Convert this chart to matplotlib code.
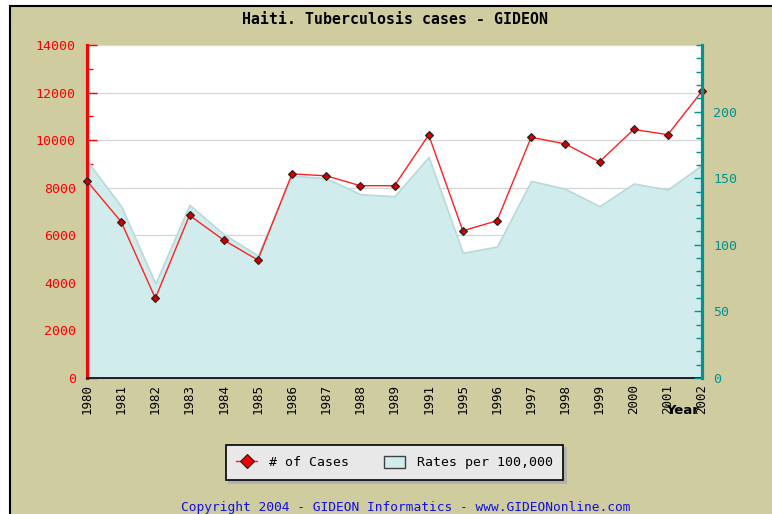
import matplotlib
matplotlib.use("Agg")
import matplotlib.pyplot as plt
from matplotlib.lines import Line2D
from matplotlib.patches import Patch, Rectangle
from matplotlib.ticker import MultipleLocator

years = ["1980", "1981", "1982", "1983", "1984", "1985", "1986", "1987", "1988", "1989",
         "1991", "1995", "1996", "1997", "1998", "1999", "2000", "2001", "2002"]
cases = [8280, 6570, 3350, 6840, 5800, 4960, 8580, 8500, 8085, 8085,
         10220, 6190, 6610, 10120, 9840, 9090, 10450, 10230, 12060]
rates = [163, 129, 71, 130, 108, 92, 152, 150, 138, 136.5,
         166, 94, 98.7, 148, 142, 129, 146, 141.5, 160]
rate_ticks = [0, 50, 100, 150, 200]

TAN = "#CFCCA0"
TEAL = "#009393"
AREA = "#D0ECEC"
MONO = "DejaVu Sans Mono"

W, H = 772, 514
fig = plt.figure(figsize=(W / 100, H / 100), dpi=100, facecolor="white")
fig.patches.append(Rectangle((10 / W, -0.05), 1.2, 1 - 6 / H + 0.05, transform=fig.transFigure,
                             facecolor=TAN, edgecolor="black", linewidth=1.5, zorder=-10))

left, right, top, bottom = 87, 702, 45, 378
ax = fig.add_axes([left / W, 1 - bottom / H, (right - left) / W, (bottom - top) / H])
ax2 = ax.twinx()
ax.set_facecolor("white")
ax2.patch.set_visible(False)

x = list(range(len(years)))
ax.set_xlim(0, len(years) - 1)
ax.set_ylim(0, 14000)
ax2.set_ylim(0, 250)

# grid (below area)
ax.yaxis.set_major_locator(MultipleLocator(2000))
ax.yaxis.set_minor_locator(MultipleLocator(1000))
ax.grid(axis="y", which="major", color="#D8D8D8", linewidth=1, zorder=0)
ax.set_axisbelow(True)

# area for rates, using the right-axis scale
ax.fill_between(x, rates, 0, transform=ax2.transData, facecolor=AREA,
                edgecolor="#B8DADA", linewidth=1.2, zorder=1)

# line for cases
ax.plot(x, cases, color="#FF2020", linewidth=1, zorder=3,
        marker="D", markersize=4, markerfacecolor="#CC0000", markeredgecolor="#202020",
        markeredgewidth=0.8, clip_on=False)

# spines
ax.spines["top"].set_visible(False)
ax2.spines["top"].set_visible(False)
ax.spines["right"].set_visible(False)
ax2.spines["left"].set_visible(False)
ax2.spines["bottom"].set_visible(False)
ax.spines["left"].set_color("red")
ax.spines["left"].set_linewidth(2.3)
ax2.spines["right"].set_color(TEAL)
ax2.spines["right"].set_linewidth(2.3)
ax.spines["bottom"].set_color("black")
ax.spines["bottom"].set_linewidth(1.2)

# ticks
ax.set_xticks(x)
ax.set_xticklabels(years, rotation=90, fontsize=9, family=MONO)
ax.tick_params(axis="x", direction="in", length=7, width=1, color="black", pad=4)
ax.tick_params(axis="y", which="major", direction="in", length=7, width=1, color="red",
               labelcolor="red", labelsize=9.5, pad=8)
ax.tick_params(axis="y", which="minor", direction="in", length=4, width=1, color="red")
for t in ax.get_yticklabels():
    t.set_family(MONO)

ax2.set_yticks(rate_ticks)
ax2.set_yticklabels([str(v) for v in rate_ticks])
ax2.yaxis.set_minor_locator(MultipleLocator(10))
ax2.tick_params(axis="y", which="major", direction="in", length=6, width=1, color=TEAL,
                labelcolor=TEAL, labelsize=9.5, pad=8)
ax2.tick_params(axis="y", which="minor", direction="in", length=4, width=1, color=TEAL)
for t in ax2.get_yticklabels():
    t.set_family(MONO)

# title and labels
fig.text(395 / W, 1 - 19 / H, "Haiti. Tuberculosis cases - GIDEON", ha="center", va="center",
         fontsize=10.7, fontweight="bold", family=MONO, color="black")
fig.text(683 / W, 1 - 411 / H, "Year", ha="center", va="center", fontsize=9.5,
         fontweight="bold", family="DejaVu Sans", color="black")

# legend
handles = [
    Line2D([0], [0], color="#FF2020", linewidth=1, marker="D", markersize=7,
           markerfacecolor="#EE0000", markeredgecolor="#202020", markeredgewidth=0.8),
    Patch(facecolor=AREA, edgecolor="#404040", linewidth=1),
]
leg = fig.legend(handles, ["# of Cases", "Rates per 100,000"], loc="center",
                 bbox_to_anchor=(394.5 / W, 1 - 462.5 / H), ncol=2, frameon=True,
                 fancybox=False, shadow={"color": "#B0B0B0", "alpha": 1},
                 prop={"family": MONO, "size": 9.5}, handlelength=1.6, handleheight=1.0,
                 columnspacing=2.6, borderpad=0.8, handletextpad=0.9)
leg.get_frame().set_facecolor("#E8E8E8")
leg.get_frame().set_edgecolor("black")
leg.get_frame().set_linewidth(1.2)
leg.get_frame().set_alpha(1)

fig.text(406 / W, 1 - 508 / H, "Copyright 2004 - GIDEON Informatics - www.GIDEONonline.com",
         ha="center", va="center", fontsize=9.3, family=MONO, color="#1010E0")

fig.savefig("out.png", dpi=100, facecolor=fig.get_facecolor())
